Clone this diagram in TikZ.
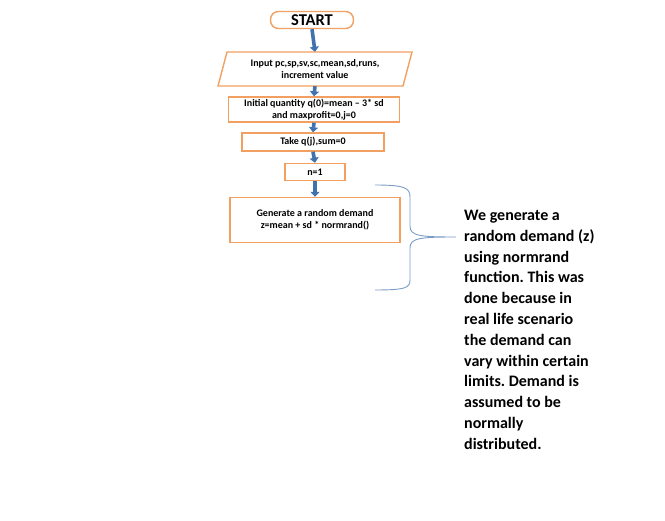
\documentclass[tikz,border=0pt]{standalone}
\usepackage{fontspec}
\setmainfont{Carlito}
\usetikzlibrary{arrows.meta}
\definecolor{boxorange}{HTML}{F2A061}
\definecolor{arrblue}{HTML}{3F72AF}
\definecolor{braceblue}{HTML}{7A9CC6}
\frenchspacing
\begin{document}
\begin{tikzpicture}[x=1pt,y=-1pt,
  fbox/.style={draw=boxorange,line width=1.4pt,fill=white,align=center,
     font=\fontsize{10}{12}\selectfont\bfseries,inner sep=1pt},
  flowarrow/.style={draw=arrblue,line width=3.6pt,
     -{Triangle[width=9pt,length=5pt]}, shorten >=0pt}
]
\useasboundingbox (0,0) rectangle (665,521);
\node[fbox,rounded corners=8pt,minimum width=83pt,minimum height=17pt,
  font=\fontsize{16.5}{18}\selectfont\bfseries] (start) at (312,20) {START};
% parallelogram
\node[minimum width=185pt,minimum height=34pt,inner sep=0pt] (input) at (315,69) {};
\draw[boxorange,line width=1.4pt,fill=white] (227,52) -- (412,52) -- (403,86) -- (218,86) -- cycle;
\node[align=center,font=\fontsize{10}{12}\selectfont\bfseries] at (input.center)
  {Input pc,sp,sv,sc,mean,sd,runs,\\ increment value};
\node[fbox,minimum width=171pt,minimum height=25pt] (init) at (314,109.5)
  {Initial quantity q(0)=mean -- 3* sd\\ and maxprofit=0,j=0};
\node[fbox,minimum width=142pt,minimum height=18pt] (take) at (313,142) {Take q(j),sum=0};
\node[fbox,minimum width=60pt,minimum height=17pt] (n1) at (315,172) {n=1};
\node[fbox,minimum width=170pt,minimum height=45pt] (gen) at (315,220)
  {Generate a random demand\\ z=mean + sd * normrand()};
\draw[flowarrow] (start.south) -- (input.north);
\draw[flowarrow] (input.south) -- (init.north);
\draw[flowarrow] (init.south) -- (take.north);
\draw[flowarrow] (take.south) -- (n1.north);
\draw[flowarrow] (n1.south) -- (gen.north);
% brace
\coordinate (bt) at (375,185);
\coordinate (bb) at (375,290);
\coordinate (tip) at (456,237);
\draw[braceblue,line width=0.9pt] (bt) .. controls (405,185) and (410,188) .. (410,197)
  -- (410,226) .. controls (410,236) and (420,237) .. (tip)
  .. controls (420,237) and (410,238) .. (410,248)
  -- (410,280) .. controls (410,288) and (405,290) .. (bb);
\node[anchor=north west,align=left,inner sep=0pt,
  font=\fontsize{16}{20.8}\selectfont\bfseries] (note) at (464,210)
  {We generate a\\ random demand (z)\\ using normrand\\ function. This was\\ done because in\\ real life scenario\\ the demand can\\ vary within certain\\ limits. Demand is\\ assumed to be\\ normally\\ distributed.};
\end{tikzpicture}
\end{document}
